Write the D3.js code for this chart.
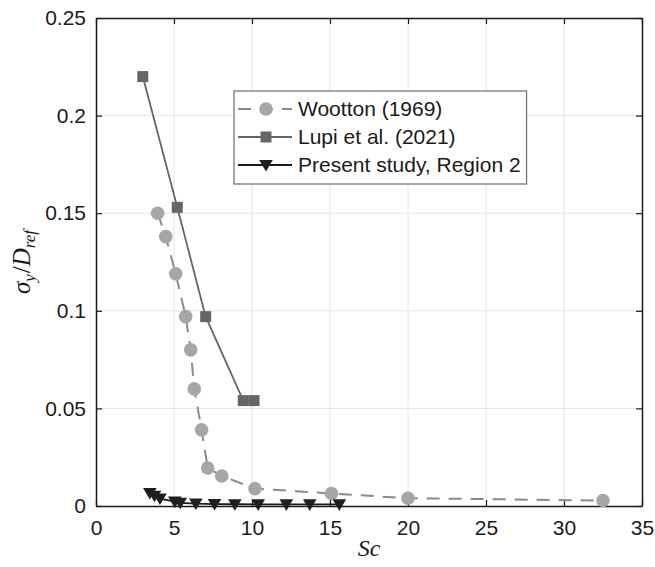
<!DOCTYPE html>
<html>
<head>
<meta charset="utf-8">
<script src="https://cdn.jsdelivr.net/npm/d3@7"></script>
<style>
  html, body { margin: 0; padding: 0; background: #fff; }
  svg { display: block; }
  .tick text { font-family: "Liberation Sans", Arial, sans-serif; }
</style>
</head>
<body>
<div id="chart"></div>
<script>
// Wootton (1969)
const woottonSc = [3.95, 4.47, 5.11, 5.75, 6.07, 6.30, 6.77, 7.16, 8.06, 10.19, 15.1, 20.0, 32.5];
const woottonSigma = [0.150, 0.138, 0.119, 0.097, 0.080, 0.060, 0.039, 0.0195, 0.0154, 0.0089, 0.0064, 0.0040, 0.0028];

// Lupi et al. (2021)
const lupiSc = [3.0, 5.21, 7.03, 9.44, 10.13];
const lupiSigma = [0.220, 0.153, 0.097, 0.054, 0.054];

// Present study, Region 2
const presentSc = [3.45, 3.75, 4.1, 5.05, 5.4, 6.4, 7.6, 8.9, 10.4, 12.2, 13.7, 15.6];
const presentSigma = [0.0066, 0.0052, 0.0038, 0.0022, 0.0016, 0.0012, 0.0010, 0.0009, 0.0008, 0.0008, 0.0008, 0.0008];

const xTicks = [0, 5, 10, 15, 20, 25, 30, 35];
const yTicks = [0, 0.05, 0.1, 0.15, 0.2, 0.25];
const legendLabels = ["Wootton (1969)", "Lupi et al. (2021)", "Present study, Region 2"];

const W = 655, H = 567;
const m = { left: 96, right: W - 642, top: 18, bottom: H - 506 };
const iw = W - m.left - m.right, ih = H - m.top - m.bottom;

const svg = d3.select("#chart").append("svg").attr("width", W).attr("height", H);
const g = svg.append("g").attr("transform", `translate(${m.left},${m.top})`);

const x = d3.scaleLinear().domain([0, 35]).range([0, iw]);
const y = d3.scaleLinear().domain([0, 0.25]).range([ih, 0]);

// grid
g.append("g").selectAll("line").data(xTicks.slice(1, -1)).join("line")
  .attr("x1", d => x(d)).attr("x2", d => x(d)).attr("y1", 0).attr("y2", ih)
  .attr("stroke", "#e4e4e4").attr("stroke-width", 1);
g.append("g").selectAll("line").data(yTicks.slice(1, -1)).join("line")
  .attr("y1", d => y(d)).attr("y2", d => y(d)).attr("x1", 0).attr("x2", iw)
  .attr("stroke", "#e4e4e4").attr("stroke-width", 1);

// axes (ticks pointing inward, mirrored on top and right)
const fs = 21;
const fmt = d => d3.format("~g")(d);
const axB = g.append("g").attr("transform", `translate(0,${ih})`)
  .call(d3.axisBottom(x).tickValues(xTicks).tickFormat(fmt).tickSizeInner(-6).tickSizeOuter(0).tickPadding(14));
const axL = g.append("g")
  .call(d3.axisLeft(y).tickValues(yTicks).tickFormat(fmt).tickSizeInner(-6).tickSizeOuter(0).tickPadding(10));
const axT = g.append("g")
  .call(d3.axisTop(x).tickValues(xTicks).tickFormat("").tickSizeInner(-6).tickSizeOuter(0));
const axR = g.append("g").attr("transform", `translate(${iw},0)`)
  .call(d3.axisRight(y).tickValues(yTicks).tickFormat("").tickSizeInner(-6).tickSizeOuter(0));
[axB, axL, axT, axR].forEach(a => {
  a.selectAll(".domain").attr("stroke", "#1a1a1a").attr("stroke-width", 1.5);
  a.selectAll(".tick line").attr("stroke", "#1a1a1a").attr("stroke-width", 1.2);
  a.selectAll(".tick text").attr("font-size", fs).attr("fill", "#1a1a1a");
});
axB.selectAll(".tick text").attr("dy", "0.71em");

// series paths
const line = d3.line().x(d => x(d[0])).y(d => y(d[1]));
const wootton = d3.zip(woottonSc, woottonSigma);
const lupi = d3.zip(lupiSc, lupiSigma);
const present = d3.zip(presentSc, presentSigma);

g.append("path").datum(wootton).attr("d", line)
  .attr("fill", "none").attr("stroke", "#8a8a8a").attr("stroke-width", 2).attr("stroke-dasharray", "13,9");
g.append("path").datum(lupi).attr("d", line)
  .attr("fill", "none").attr("stroke", "#666666").attr("stroke-width", 1.8);
g.append("path").datum(present).attr("d", line)
  .attr("fill", "none").attr("stroke", "#1a1a1a").attr("stroke-width", 1.8);

// markers
g.append("g").selectAll("circle").data(wootton).join("circle")
  .attr("cx", d => x(d[0])).attr("cy", d => y(d[1])).attr("r", 6.8)
  .attr("fill", "#a6a6a8");

const sq = 11;
g.append("g").selectAll("rect").data(lupi).join("rect")
  .attr("x", d => x(d[0]) - sq / 2).attr("y", d => y(d[1]) - sq / 2)
  .attr("width", sq).attr("height", sq).attr("fill", "#666666");

const tri = (cx, cy, s) => `M${cx - s},${cy - s * 0.75}L${cx + s},${cy - s * 0.75}L${cx},${cy + s * 0.95}Z`;
g.append("g").selectAll("path").data(present).join("path")
  .attr("d", d => tri(x(d[0]), y(d[1]), 6.8)).attr("fill", "#1f1f1f");

// legend
const lg = svg.append("g").attr("transform", "translate(234,91)");
const box = lg.append("rect").attr("height", 93)
  .attr("fill", "#fff").attr("stroke", "#6b6b6b").attr("stroke-width", 1.2);
const rowsY = [18, 46, 74];
let maxW = 0;
legendLabels.forEach((t, i) => {
  const ry = rowsY[i];
  const row = lg.append("g").attr("transform", `translate(0,${ry})`);
  if (i === 0) {
    row.append("line").attr("x1", 4).attr("x2", 58).attr("stroke", "#8a8a8a")
      .attr("stroke-width", 2).attr("stroke-dasharray", "13,9");
    row.append("circle").attr("cx", 32).attr("r", 6.8).attr("fill", "#a6a6a8");
  } else if (i === 1) {
    row.append("line").attr("x1", 4).attr("x2", 58).attr("stroke", "#666666").attr("stroke-width", 1.8);
    row.append("rect").attr("x", 32 - sq / 2).attr("y", -sq / 2).attr("width", sq).attr("height", sq).attr("fill", "#666666");
  } else {
    row.append("line").attr("x1", 4).attr("x2", 58).attr("stroke", "#1a1a1a").attr("stroke-width", 1.8);
    row.append("path").attr("d", tri(32, 0, 6.8)).attr("fill", "#1f1f1f");
  }
  const txt = row.append("text").attr("x", 64).attr("dy", "0.35em")
    .attr("font-family", "'Liberation Sans', Arial, sans-serif").attr("font-size", fs)
    .attr("fill", "#1a1a1a").text(t);
  maxW = Math.max(maxW, txt.node().getComputedTextLength());
});
box.attr("width", 64 + maxW + 6);

// axis titles
svg.append("text").attr("x", m.left + iw / 2).attr("y", 556).attr("text-anchor", "middle")
  .attr("font-family", "'Liberation Serif', 'DejaVu Serif', serif").attr("font-style", "italic")
  .attr("font-size", 24).attr("fill", "#1a1a1a").text("Sc");

const yl = svg.append("text").attr("transform", `translate(30,${m.top + ih / 2}) rotate(-90)`)
  .attr("text-anchor", "middle")
  .attr("font-family", "'Liberation Serif', 'DejaVu Serif', serif").attr("font-style", "italic")
  .attr("font-size", 25).attr("fill", "#1a1a1a");
yl.append("tspan").text("σ");
yl.append("tspan").attr("font-size", 17).attr("dy", 5).text("y");
yl.append("tspan").attr("dy", -5).attr("font-style", "normal").attr("dx", 1).text("/");
yl.append("tspan").text("D");
yl.append("tspan").attr("font-size", 17).attr("dy", 5).text("ref");
</script>
</body>
</html>
